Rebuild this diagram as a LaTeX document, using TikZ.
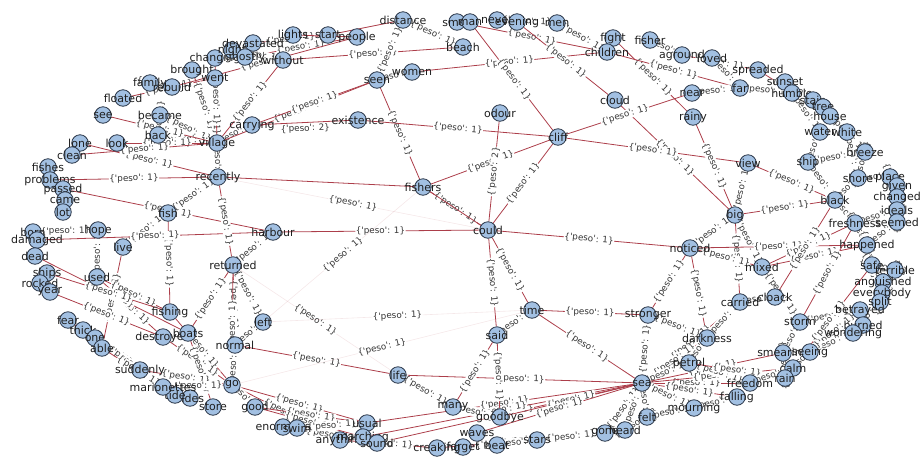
\documentclass[tikz,border=0pt]{standalone}
\usepackage{fontspec}
\setmainfont{DejaVu Sans}
\usetikzlibrary{backgrounds}
\definecolor{edgecol}{RGB}{172,62,74}
\definecolor{nodefill}{RGB}{162,192,226}
\definecolor{nodeline}{RGB}{40,52,70}
\definecolor{lblcol}{RGB}{30,30,30}
\newcommand\pesolbl[1]{\{\textquotesingle peso\textquotesingle: #1\}}
\newcommand\wn[4]{\node[wnode,label={[wlabel]center:#4}] (#1) at (#2,#3) {};}
\tikzset{
  wnode/.style={circle,draw=nodeline,fill=nodefill,line width=0.8pt,minimum size=16.5pt,inner sep=0pt},
  wlabel/.style={text=lblcol,font=\fontsize{11}{13}\selectfont,inner sep=0pt},
  wedge/.style={draw=edgecol,line width=0.8pt},
  faintedge/.style={draw=edgecol,draw opacity=0.12,line width=0.6pt},
  elbl/.style={sloped,midway,fill=white,inner sep=0.4pt,text=lblcol!90,font=\fontsize{8.8}{10}\selectfont}
}
\begin{document}
\begin{tikzpicture}[x=1pt,y=-1pt]
\useasboundingbox (0,0) rectangle (922,459);
% word nodes, upper left arc
\wn{family}{150}{83}{family}
\wn{rebuild}{172}{87}{rebuild}
\wn{brought}{192}{70}{brought}
\wn{went}{215}{78}{went}
\wn{changing}{215}{58}{changing}
\wn{night}{232}{50}{night}
\wn{devastated}{253}{43}{devastated}
\wn{ghostly}{245}{57}{ghostly}
\wn{without}{283}{60}{without}
\wn{lights}{293}{35}{lights}
\wn{start}{328}{35}{start}
\wn{people}{357}{37}{people}
\wn{distance}{403}{20}{distance}
\wn{smell}{457}{22}{smell}
\wn{man}{470}{22}{man}
\wn{never}{497}{20}{never}
\wn{evening}{517}{22}{evening}
\wn{men}{557}{23}{men}
\wn{beach}{463}{47}{beach}
\wn{women}{412}{72}{women}
\wn{seen}{377}{80}{seen}
\wn{existence}{358}{120}{existence}
\wn{carrying}{252}{125}{carrying}
\wn{odour}{500}{113}{odour}
\wn{cliff}{558}{137}{cliff}
\wn{cloud}{615}{100}{cloud}
\wn{fight}{613}{38}{fight}
\wn{fisher}{650}{40}{fisher}
\wn{children}{607}{52}{children}
\wn{aground}{682}{55}{aground}
\wn{loved}{712}{58}{loved}
\wn{near}{692}{93}{near}
\wn{rainy}{693}{117}{rainy}
% right arc
\wn{spreaded}{758}{70}{spreaded}
\wn{far}{740}{88}{far}
\wn{sunset}{785}{82}{sunset}
\wn{humble}{792}{93}{humble}
\wn{stain}{813}{100}{stain}
\wn{tree}{823}{107}{tree}
\wn{house}{830}{116}{house}
\wn{water}{820}{132}{water}
\wn{white}{847}{132}{white}
\wn{breeze}{865}{152}{breeze}
\wn{view}{748}{163}{view}
\wn{ship}{808}{162}{ship}
\wn{shore}{858}{178}{shore}
\wn{place}{890}{177}{place}
\wn{given}{897}{186}{given}
\wn{changed}{897}{197}{changed}
\wn{ideals}{897}{210}{ideals}
\wn{seemed}{897}{222}{seemed}
\wn{black}{835}{200}{black}
\wn{big}{735}{215}{big}
\wn{freshness}{855}{223}{freshness}
\wn{happened}{867}{245}{happened}
\wn{safe}{872}{265}{safe}
\wn{terrible}{895}{270}{terrible}
\wn{anguished}{883}{282}{anguished}
\wn{everybody}{882}{293}{everybody}
\wn{split}{880}{302}{split}
\wn{betrayed}{860}{310}{betrayed}
\wn{burned}{863}{325}{burned}
\wn{wondering}{853}{333}{wondering}
\wn{storm}{800}{322}{storm}
\wn{mixed}{762}{267}{mixed}
\wn{cloack}{775}{297}{cloack}
\wn{carried}{740}{302}{carried}
\wn{noticed}{690}{248}{noticed}
\wn{darkness}{707}{338}{darkness}
\wn{petrol}{689}{363}{petrol}
\wn{smearing}{783}{353}{smearing}
\wn{seeing}{810}{352}{seeing}
\wn{calm}{793}{368}{calm}
\wn{rain}{785}{378}{rain}
\wn{freedom}{750}{383}{freedom}
\wn{falling}{737}{397}{falling}
\wn{mourning}{694}{408}{mourning}
% middle and bottom
\wn{felt}{647}{417}{felt}
\wn{sea}{642}{383}{sea}
\wn{stronger}{648}{315}{stronger}
\wn{time}{532}{310}{time}
\wn{said}{497}{335}{said}
\wn{could}{488}{230}{could}
\wn{fishers}{423}{187}{fishers}
\wn{harbour}{273}{232}{harbour}
\wn{goodbye}{500}{417}{goodbye}
\wn{many}{453}{407}{many}
\wn{gone}{605}{433}{gone}
\wn{heard}{625}{430}{heard}
\wn{stars}{537}{440}{stars}
\wn{beat}{497}{445}{beat}
\wn{waves}{477}{433}{waves}
\wn{forget}{463}{447}{forget}
\wn{creaking}{437}{448}{creaking}
\wn{usual}{367}{423}{usual}
\wn{anything}{340}{440}{anything}
\wn{marching}{363}{437}{marching}
\wn{sound}{377}{443}{sound}
\wn{enormous}{283}{427}{enormous}
\wn{swim}{297}{428}{swim}
\wn{good}{255}{407}{good}
\wn{go}{232}{385}{go}
\wn{life}{398}{375}{life}
\wn{normal}{235}{345}{normal}
\wn{leftw}{263}{322}{left}
\wn{returned}{233}{265}{returned}
% lower left arc
\wn{store}{213}{407}{store}
\wn{sides}{190}{398}{sides}
\wn{tide}{175}{395}{tide}
\wn{marionettes}{163}{387}{marionettes}
\wn{suddenly}{140}{370}{suddenly}
\wn{destroyed}{163}{337}{destroyed}
\wn{boats}{188}{333}{boats}
\wn{fishing}{170}{312}{fishing}
\wn{fear}{68}{320}{fear}
\wn{thick}{83}{330}{thick}
\wn{one}{95}{338}{one}
\wn{able}{102}{348}{able}
\wn{used}{97}{277}{used}
\wn{live}{123}{247}{live}
\wn{hope}{98}{230}{hope}
\wn{fish}{168}{213}{fish}
\wn{recently}{218}{177}{recently}
\wn{village}{217}{143}{village}
\wn{back}{158}{135}{back}
\wn{became}{160}{115}{became}
\wn{see}{103}{115}{see}
\wn{floated}{123}{98}{floated}
\wn{lone}{80}{143}{lone}
\wn{look}{117}{143}{look}
\wn{clean}{72}{155}{clean}
\wn{fishes}{48}{167}{fishes}
\wn{problems}{50}{180}{problems}
\wn{passed}{63}{189}{passed}
\wn{came}{65}{200}{came}
\wn{lot}{63}{212}{lot}
\wn{born}{33}{232}{born}
\wn{damaged}{37}{240}{damaged}
\wn{dead}{35}{256}{dead}
\wn{ships}{47}{273}{ships}
\wn{rocked}{40}{283}{rocked}
\wn{year}{50}{292}{year}

\begin{pgfonlayer}{background}
% weighted connectors with their labels
\foreach \a/\b in {
  family/rebuild, floated/went, brought/village, went/village, changing/village,
  became/village, back/village, see/village, back/became, look/village,
  lone/recently, clean/village, village/recently, village/carrying, village/seen,
  carrying/seen, without/village, without/beach, ghostly/people, rebuild/people,
  devastated/start, night/without, problems/recently, passed/harbour, fish/live,
  fish/fishing, fish/recently, hope/used, damaged/harbour, born/hope,
  live/able, used/fishing, used/destroyed, dead/boats, ships/fishing,
  year/destroyed, fear/suddenly, thick/suddenly, one/marionettes, able/tide,
  recently/returned, returned/leftw, returned/normal, returned/boats, returned/go,
  returned/harbour, harbour/could, fishing/go, destroyed/go, boats/store,
  normal/life, normal/go, leftw/normal, suddenly/go, marionettes/go,
  go/usual, go/anything, good/usual, good/marching, go/good,
  enormous/sound, swim/usual, usual/sea, sound/sea, marching/sea,
  anything/creaking, life/sea, life/many, many/said, said/time,
  said/could, said/goodbye, goodbye/sea, goodbye/many, waves/sea,
  creaking/gone, forget/stars, beat/stars, stars/gone, gone/sea,
  heard/felt, heard/sea, could/time, could/noticed, could/cliff,
  could/fishers, fishers/seen, fishers/cliff, existence/cliff, seen/women,
  women/children, seen/distance, distance/beach, smell/children, man/cliff,
  never/men, evening/cloud, men/children, fight/rainy, children/far,
  fisher/aground, cloud/big, cliff/near, cliff/view, near/far,
  rainy/big, aground/spreaded, loved/far, far/humble, spreaded/house,
  sunset/stain, humble/water, tree/white, house/breeze, water/ship,
  white/shore, view/big, view/black, ship/black, big/noticed,
  big/mixed, big/carried, big/black, noticed/stronger, noticed/darkness,
  noticed/mixed, noticed/happened, mixed/freshness, mixed/happened, mixed/storm,
  cloack/black, cloack/carried, carried/sea, storm/freshness, storm/smearing,
  storm/betrayed, shore/place, shore/black, black/freshness, freshness/happened,
  happened/safe, safe/terrible, safe/anguished, safe/rain, terrible/everybody,
  anguished/split, everybody/burned, split/wondering, betrayed/seeing, wondering/seeing,
  seeing/calm, smearing/rain, place/changed, given/ideals, changed/seemed,
  ideals/freshness, seemed/happened, darkness/sea, darkness/petrol, stronger/sea,
  stronger/darkness, time/stronger, time/sea, sea/petrol, sea/freedom,
  sea/falling, sea/mourning, sea/smearing, sea/calm, sea/felt,
  petrol/freedom, petrol/rain, mourning/falling, freedom/calm, felt/mourning,
  carried/darkness, breeze/ship, breeze/shore}
  \draw[wedge] (\a) -- node[elbl]{\pesolbl{1}} (\b);
% barely visible connectors across the open middle, labels still shown
\foreach \a/\b in {recently/could, leftw/fishers, returned/life, leftw/time, go/time}
  \draw[faintedge] (\a) -- node[elbl]{\pesolbl{1}} (\b);
% connectors of weight two
\draw[wedge] (carrying) -- node[elbl,below=1pt]{\pesolbl{2}} (existence);
\draw[wedge] (odour) -- node[elbl]{\pesolbl{2}} (could);
% long connectors whose labels sit among other marks
\foreach \a/\b in {recently/fishers, fishers/could, lights/people, start/distance}
  \draw[wedge] (\a) -- (\b);
\end{pgfonlayer}
\end{tikzpicture}
\end{document}
